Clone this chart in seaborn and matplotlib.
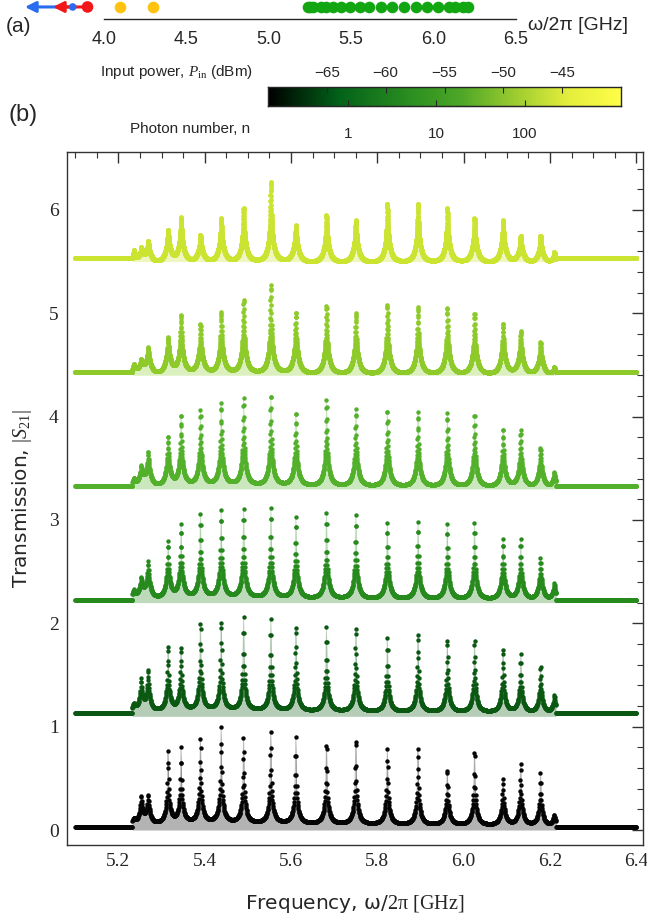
import numpy as np
import matplotlib
matplotlib.use("Agg")
import matplotlib.pyplot as plt
import seaborn as sns
from matplotlib.colors import LinearSegmentedColormap
from matplotlib.ticker import MultipleLocator

# --- data --------------------------------------------------------------
# resonance frequencies of the array modes (GHz)
res_freq = [5.236, 5.253, 5.269, 5.315, 5.345, 5.390, 5.438, 5.490, 5.553, 5.611,
            5.682, 5.750, 5.823, 5.894, 5.962, 6.025, 6.091, 6.132, 6.178, 6.210]

# peak height of every mode above the trace offset, low -> high input power
peaks_p0 = [0.12, 0.34, 0.35, 0.77, 0.80, 0.90, 1.00, 0.90, 0.95, 0.90,
            0.86, 0.90, 0.79, 0.80, 0.60, 0.78, 0.50, 0.65, 0.55, 0.15]
peaks_p1 = [0.13, 0.37, 0.46, 0.69, 0.68, 0.92, 0.93, 0.96, 0.94, 0.88,
            0.86, 0.87, 0.76, 0.81, 0.75, 0.75, 0.66, 0.60, 0.49, 0.21]
peaks_p2 = [0.13, 0.25, 0.40, 0.60, 0.76, 0.86, 0.90, 0.91, 0.92, 0.83,
            0.87, 0.85, 0.77, 0.78, 0.76, 0.77, 0.62, 0.62, 0.43, 0.19]
peaks_p3 = [0.11, 0.23, 0.36, 0.51, 0.72, 0.76, 0.83, 0.88, 0.91, 0.74,
            0.86, 0.77, 0.76, 0.74, 0.73, 0.72, 0.58, 0.57, 0.40, 0.16]
peaks_p4 = [0.11, 0.16, 0.27, 0.37, 0.59, 0.50, 0.61, 0.73, 0.87, 0.61,
            0.67, 0.60, 0.68, 0.66, 0.65, 0.60, 0.50, 0.43, 0.32, 0.08]
peaks_p5 = [0.11, 0.14, 0.20, 0.31, 0.43, 0.26, 0.42, 0.52, 0.77, 0.35,
            0.45, 0.40, 0.56, 0.56, 0.52, 0.42, 0.40, 0.25, 0.25, 0.09]
all_peaks = [peaks_p0, peaks_p1, peaks_p2, peaks_p3, peaks_p4, peaks_p5]

trace_offset = [0.0, 1.1, 2.2, 3.3, 4.4, 5.5]
flat_level = 0.03          # off-band transmission above offset
floor_level = [0.0, -0.01, -0.02, -0.03, -0.04, -0.05]   # in-band background
spike_width = [0.0008, 0.0008, 0.0008, 0.0008, 0.0008, 0.0008]   # GHz
right_asym = [1.0, 1.0, 1.0, 1.1, 1.2, 1.3]
base_amp = [0.13, 0.13, 0.14, 0.15, 0.16, 0.16]
base_full_height = 0.35    # peaks lower than this get a proportionally smaller base
base_width = [0.006, 0.006, 0.007, 0.007, 0.008, 0.008]        # GHz
sweep_step = [0.0007, 0.0006, 0.0005, 0.0004, 0.0003, 0.0002]
band_edges = [5.232, 6.214]
sweep_range = [5.10, 6.40]

trace_colors = ["#050505", "#0b5813", "#268a1d", "#52b02a", "#8ecb2a", "#cbe331"]
dot_sizes = [10, 10, 10, 10, 11, 12]

# panel (a): mode positions
low_modes = [3.81, 3.90]
low_tips = [3.52, 3.69]
low_colors = ["#2a6cf0", "#f01818"]
low_sizes = [30, 70]
mid_modes = [4.10, 4.30]

# colour bar
cbar_nodes = [0.0, 0.2, 0.4, 0.55, 0.7, 0.85, 1.0]
cbar_colors = ["#000000", "#03621a", "#2a8e20", "#4fa828", "#9ccc30", "#e4ee3c", "#fffe48"]
power_range = [-70, -40]
power_ticks = [-65, -60, -55, -50, -45]
photon_pos = [-63.2, -55.7, -48.2]
photon_labels = ["1", "10", "100"]


def make_trace(heights, g_s, asym, b_amp, g_b, step, floor):
    f = np.arange(sweep_range[0], sweep_range[1] + 1e-9, step)
    band = (f > band_edges[0]) & (f < band_edges[1])
    f0 = np.array(res_freq)
    h = np.array(heights)
    b_k = b_amp * np.minimum(1.0, h / base_full_height)

    def spike(x):
        d = x[:, None] - f0[None, :]
        w = np.where(d < 0, g_s, g_s * asym)
        return 1.0 / np.sqrt(1.0 + (d / w) ** 2)

    def base(x):
        d = x[:, None] - f0[None, :]
        return (b_k[None, :] / (1.0 + (d / g_b) ** 2)).sum(axis=1)

    # spike amplitudes so that each peak reaches the height
    amp = np.linalg.solve(spike(f0), h - floor - base(f0))
    y = np.full_like(f, flat_level)
    y[band] = floor + base(f[band]) + spike(f[band]) @ amp
    return f, y, band


sns.set_style("white")
plt.rcParams['font.family'] = 'DejaVu Sans'
plt.rcParams['mathtext.fontset'] = 'custom'
plt.rcParams['mathtext.rm'] = 'Liberation Serif'
plt.rcParams['mathtext.it'] = 'Liberation Serif:italic'

fig = plt.figure(figsize=(6.47, 9.21), dpi=100)
W, H = 647, 921

# ---------------- panel (b) ----------------
ax = fig.add_axes([67 / W, 1 - 845 / H, (643 - 67) / W, (845 - 152) / H])
for i in range(len(all_peaks)):
    f, y, band = make_trace(all_peaks[i], spike_width[i], right_asym[i], base_amp[i],
                            base_width[i], sweep_step[i], floor_level[i])
    off = trace_offset[i]
    c = trace_colors[i]
    ax.fill_between(f[band], off, y[band] + off, color=c, alpha=0.3, lw=0, zorder=1)
    sns.lineplot(x=f, y=y + off, color=c, alpha=0.25, lw=0.6, ax=ax,
                 estimator=None, sort=False, zorder=2)
    sns.scatterplot(x=f, y=y + off, color=c, s=dot_sizes[i], linewidth=0,
                    ax=ax, legend=False, zorder=3)

ax.set_xlim(5.081, 6.4155)
ax.set_ylim(-0.145, 6.56)
ax.xaxis.set_major_locator(MultipleLocator(0.2))
ax.xaxis.set_minor_locator(MultipleLocator(0.05))
ax.yaxis.set_major_locator(MultipleLocator(1))
ax.yaxis.set_minor_locator(MultipleLocator(0.2))
ax.set_xticks(ax.get_xticks())
ax.set_xticklabels([f"{t:.1f}" for t in ax.get_xticks()])
ax.set_xlim(5.081, 6.4155)
ax.tick_params(which='both', direction='in', top=True, right=True,
               labelsize=14, pad=6, color='#333333')
ax.tick_params(which='major', length=8, width=1)
ax.tick_params(which='minor', length=4, width=0.8)
for lab in ax.get_xticklabels() + ax.get_yticklabels():
    lab.set_fontfamily('Liberation Serif')
for sp in ax.spines.values():
    sp.set_color('#333333')
    sp.set_linewidth(1)
ax.set_xlabel("Frequency, \u03c9/" + r"$\mathrm{2\pi\ [GHz]}$", fontsize=14.5, labelpad=16)
ax.set_ylabel(r"Transmission, $|S_{21}|$", fontsize=14.5, labelpad=11)
fig.text(8 / W, 1 - 115 / H, "(b)", fontsize=17, va='center', family='Liberation Sans')

# ---------------- panel (a) ----------------
axa = fig.add_axes([104 / W, 1 - 19 / H, 412 / W, 14 / H])
axa.set_xlim(4.0, 6.5)
axa.set_ylim(0, 1)
for s in ['left', 'right', 'top']:
    axa.spines[s].set_visible(False)
axa.spines['bottom'].set_linewidth(1)
axa.set_yticks([])
axa.xaxis.set_major_locator(MultipleLocator(0.5))
axa.xaxis.set_minor_locator(MultipleLocator(0.1))
axa.tick_params(which='both', direction='in', labelsize=13, pad=9)
axa.tick_params(which='major', length=7, width=1)
axa.tick_params(which='minor', length=4, width=0.8)
axa.set_xticks(axa.get_xticks())
axa.set_xticklabels([f"{t:.1f}" for t in axa.get_xticks()])
axa.set_xlim(4.0, 6.5)
for lab in axa.get_xticklabels():
    lab.set_fontfamily('Liberation Sans')
ydot = 0.86
for m, t, c in zip(low_modes, low_tips, low_colors):
    axa.annotate('', xy=(t, ydot), xytext=(m, ydot), annotation_clip=False,
                 arrowprops=dict(arrowstyle='-|>', color=c, lw=2.2, mutation_scale=16,
                                 shrinkA=0, shrinkB=0))
sns.scatterplot(x=low_modes, y=[ydot] * 2, color=low_colors, s=low_sizes, linewidth=0,
                ax=axa, legend=False, clip_on=False, zorder=4)
sns.scatterplot(x=mid_modes, y=[ydot] * 2, color="#ffc20e", s=70, linewidth=0,
                ax=axa, legend=False, clip_on=False, zorder=4)
sns.scatterplot(x=res_freq, y=[ydot] * len(res_freq), color="#12a612", s=70, linewidth=0,
                ax=axa, legend=False, clip_on=False, zorder=4)
axa.set_xlim(4.0, 6.5)
fig.text(6 / W, 1 - 26 / H, "(a)", fontsize=15, va='center', family='Liberation Sans')
fig.text(528 / W, 1 - 25 / H, "\u03c9/2\u03c0 [GHz]", fontsize=14, va='center',
         family='Liberation Sans')

# ---------------- colour bar ----------------
cmap = LinearSegmentedColormap.from_list("power", list(zip(cbar_nodes, cbar_colors)))
cax = fig.add_axes([268 / W, 1 - 106 / H, (621 - 268) / W, 19 / H])
grad = np.linspace(power_range[0], power_range[1], 256)[None, :]
cax.imshow(grad, cmap=cmap, aspect='auto', extent=[power_range[0], power_range[1], 0, 1])
cax.set_yticks([])
cax.xaxis.set_ticks_position('top')
cax.set_xticks(power_ticks)
cax.set_xticklabels([f"\u2212{abs(p)}" for p in power_ticks])
cax.tick_params(direction='in', length=4, width=0.8, labelsize=11, pad=5)
for lab in cax.get_xticklabels():
    lab.set_fontfamily('Liberation Sans')
for sp in cax.spines.values():
    sp.set_linewidth(1)
sec = cax.secondary_xaxis('bottom')
sec.set_xticks(photon_pos)
sec.set_xticklabels(photon_labels)
sec.tick_params(direction='in', length=4, width=0.8, labelsize=11, pad=15)
for lab in sec.get_xticklabels():
    lab.set_fontfamily('Liberation Sans')
fig.text(253 / W, 1 - 72 / H, r"Input power, $P_{\mathrm{in}}$ (dBm)", fontsize=11,
         ha='right', va='center', family='Liberation Sans')
fig.text(250 / W, 1 - 129 / H, "Photon number, n", fontsize=11,
         ha='right', va='center', family='Liberation Sans')

fig.savefig("out.png", dpi=100)
